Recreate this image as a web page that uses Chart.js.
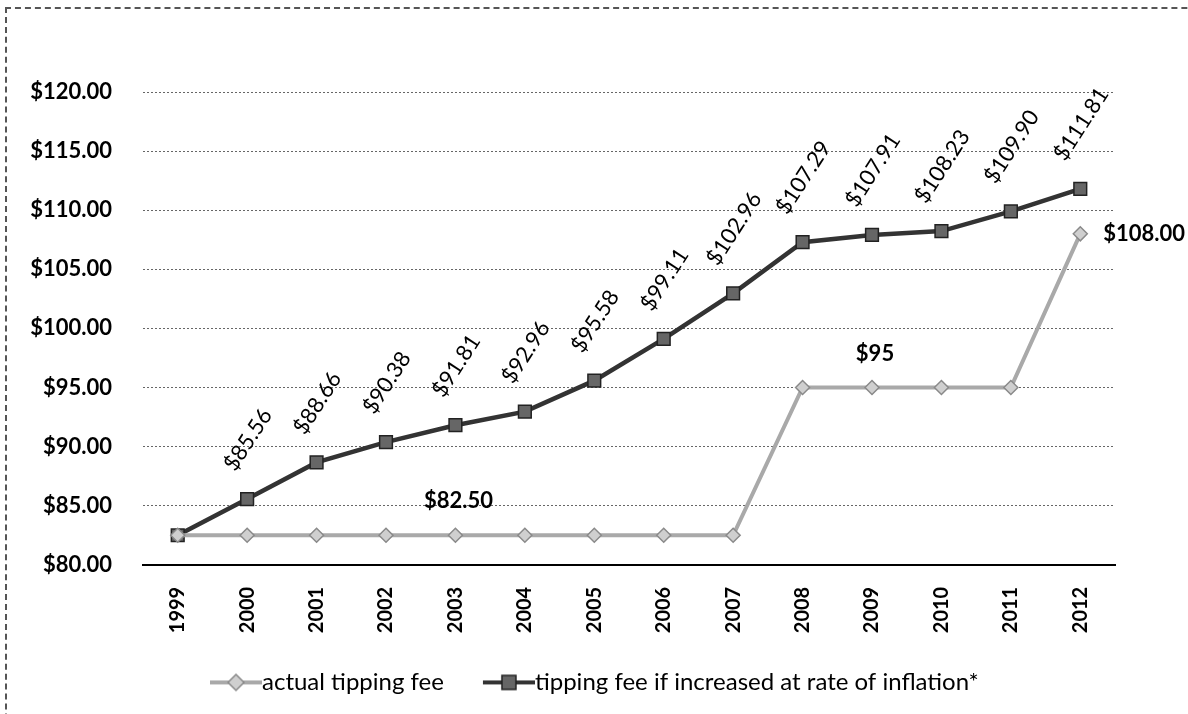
<!DOCTYPE html>
<html>
<head>
<meta charset="utf-8">
<script src="https://cdn.jsdelivr.net/npm/chart.js@4.4.0/dist/chart.umd.min.js"></script>
<style>
  html, body { margin: 0; padding: 0; background: #fff; }
  #wrap { position: relative; width: 1188px; height: 714px; overflow: hidden; }
  #frame { position: absolute; left: 5px; top: 7px; width: 1300px; height: 800px;
           border-left: 2px dashed #555; border-top: 2px dashed #555; }
  #chart-grafico { position: absolute; left: 0; top: 0; }
</style>
</head>
<body>
<div id="wrap">
  <div id="frame"></div>
  <canvas id="chart-grafico" width="1188" height="714"></canvas>
</div>
<script>
const years = ['1999', '2000', '2001', '2002', '2003', '2004', '2005', '2006', '2007', '2008', '2009', '2010', '2011', '2012'];
const actualFee = [82.50, 82.50, 82.50, 82.50, 82.50, 82.50, 82.50, 82.50, 82.50, 95, 95, 95, 95, 108.00];
const inflationFee = [82.50, 85.56, 88.66, 90.38, 91.81, 92.96, 95.58, 99.11, 102.96, 107.29, 107.91, 108.23, 109.90, 111.81];
const actualLabels = ['', '', '', '', '$82.50', '', '', '', '', '', '$95', '', '', '$108.00'];
const inflationLabels = ['', '$85.56', '$88.66', '$90.38', '$91.81', '$92.96', '$95.58', '$99.11', '$102.96', '$107.29', '$107.91', '$108.23', '$109.90', '$111.81'];
const seriesNames = ['actual tipping fee', 'tipping fee if increased at rate of inflation*'];

const claro = '#a9a9a9';
const oscuro = '#333333';

// icono de leyenda: linea con marcador, pegado al texto por la derecha
const ANCHO_ICONO = 93;
const iconoLeyenda = (color, marcador) => {
    const c = document.createElement('canvas');
    c.width = ANCHO_ICONO; c.height = 22;
    const g = c.getContext('2d');
    g.strokeStyle = color; g.lineWidth = 4;
    g.beginPath(); g.moveTo(ANCHO_ICONO - 52, 11); g.lineTo(ANCHO_ICONO, 11); g.stroke();
    marcador(g, ANCHO_ICONO - 26, 11);
    return c;
};
const iconoActual = iconoLeyenda(claro, (g, x, y) => {
    g.fillStyle = '#cfcfcf'; g.strokeStyle = '#8a8a8a'; g.lineWidth = 1.5;
    g.beginPath(); g.moveTo(x, y - 8); g.lineTo(x + 8, y); g.lineTo(x, y + 8); g.lineTo(x - 8, y); g.closePath();
    g.fill(); g.stroke();
});
const iconoInflacion = iconoLeyenda(oscuro, (g, x, y) => {
    g.fillStyle = '#666'; g.strokeStyle = '#222'; g.lineWidth = 1.5;
    g.fillRect(x - 7, y - 7, 14, 14); g.strokeRect(x - 7, y - 7, 14, 14);
});

const ANG = 57 * Math.PI / 180;

const etiquetas = {
    id: 'etiquetas',
    afterLayout(chart) {
        // la leyenda empieza mas a la derecha, como en el original
        chart.legend.left = 171;
    },
    afterDatasetsDraw(chart) {
        const ctx = chart.ctx;
        ctx.save();
        ctx.fillStyle = '#000';
        ctx.textAlign = 'center';
        ctx.textBaseline = 'middle';

        ctx.font = '22px Lato';
        chart.getDatasetMeta(1).data.forEach((pt, i) => {
            const txt = inflationLabels[i];
            if (!txt) return;
            const w = ctx.measureText(txt).width;
            const alto = w * Math.sin(ANG) + 16 * Math.cos(ANG);
            ctx.save();
            ctx.translate(pt.x + 1, pt.y - 26 - alto / 2);
            ctx.rotate(-ANG);
            ctx.fillText(txt, 0, 0);
            ctx.restore();
        });

        ctx.font = 'bold 22px Lato';
        const pts = chart.getDatasetMeta(0).data;
        pts.forEach((pt, i) => {
            const txt = actualLabels[i];
            if (!txt) return;
            if (i === pts.length - 1) {
                ctx.textAlign = 'left';
                ctx.fillText(txt, pt.x + 23, pt.y);
            } else {
                ctx.textAlign = 'center';
                ctx.fillText(txt, pt.x + 3, pt.y - 34);
            }
        });
        ctx.restore();
    }
};

const ctx = document.getElementById('chart-grafico');
new Chart(ctx, {
    type: 'line',
    data: {
        labels: years,
        datasets: [
            {
                label: seriesNames[0],
                data: actualFee,
                borderColor: claro,
                borderWidth: 4,
                pointStyle: 'rectRot',
                pointRadius: 7,
                pointBackgroundColor: '#cfcfcf',
                pointBorderColor: '#8a8a8a',
                pointBorderWidth: 1.5,
                tension: 0
            },
            {
                label: seriesNames[1],
                data: inflationFee,
                borderColor: oscuro,
                borderWidth: 4.5,
                pointStyle: 'rect',
                pointRadius: 9,
                pointBackgroundColor: '#666',
                pointBorderColor: '#222',
                pointBorderWidth: 1.5,
                tension: 0
            }
        ]
    },
    options: {
        responsive: false,
        animation: false,
        layout: { padding: { top: 92, left: 30, right: 73, bottom: 9.6 } },
        scales: {
            x: {
                offset: true,
                grid: { display: false, drawTicks: false },
                border: { display: true, color: '#000', width: 2 },
                ticks: { minRotation: 90, maxRotation: 90, padding: 22, color: '#000',
                         font: { family: 'Lato', size: 20, weight: 'bold' } },
                afterFit: (scale) => { scale.height = 95.6; }
            },
            y: {
                min: 80, max: 120,
                grid: { color: '#666', lineWidth: 1, drawTicks: false },
                border: { display: false, dash: [2, 2] },
                ticks: { stepSize: 5, padding: 31, color: '#000',
                         font: { family: 'Lato', size: 22, weight: 'bold' },
                         callback: (v) => '$' + Number(v).toFixed(2) },
                afterFit: (scale) => { scale.width = 113; }
            }
        },
        plugins: {
            legend: {
                position: 'bottom',
                align: 'start',
                labels: {
                    usePointStyle: true,
                    pointStyleWidth: 69,
                    padding: 10,
                    color: '#000',
                    font: { family: 'Lato', size: 24 },
                    generateLabels: (chart) => {
                        const items = Chart.defaults.plugins.legend.labels.generateLabels(chart);
                        items[0].pointStyle = iconoActual;
                        items[1].pointStyle = iconoInflacion;
                        return items;
                    }
                }
            },
            tooltip: { enabled: false }
        }
    },
    plugins: [etiquetas]
});
</script>
</body>
</html>
